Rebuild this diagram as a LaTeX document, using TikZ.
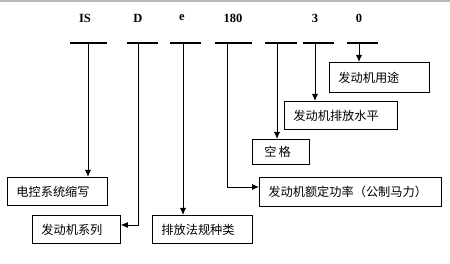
\documentclass[tikz,border=0pt]{standalone}
\usepackage{fontspec}
\setmainfont{Liberation Serif}
\newfontfamily\cjk{Noto Sans CJK SC}
\usetikzlibrary{arrows.meta}
\begin{document}
\begin{tikzpicture}[x=1pt,y=-1pt,
  box/.style={draw, line width=0.8pt, anchor=north west, inner xsep=9pt, inner ysep=0pt,
    font=\cjk\fontsize{12.2}{13}\selectfont, align=left},
  code/.style={font=\bfseries\fontsize{12.5}{13}\selectfont, inner sep=0pt},
  bar/.style={line width=1.8pt},
  arr/.style={line width=0.9pt, -{Latex[length=7pt,width=6pt]}}]
\useasboundingbox (0,0) rectangle (450,264);
\fill[white] (0,0) rectangle (450,264);
\fill[gray!55] (0,0) rectangle (450,2.5);
% code letters
\node[code] (tIS) at (85,18) {IS};
\node[code] (tD) at (138,18) {D};
\node[code] (te) at (182,18) {e};
\node[code] (t180) at (233,18) {180};
\node[code] (t3) at (315,18) {3};
\node[code] (t0) at (359,18) {0};
% bars
\coordinate (b1l) at (70,43); \coordinate (b1r) at (107,43); \coordinate (b1) at (88,43);
\coordinate (b2l) at (127,43); \coordinate (b2r) at (158,43); \coordinate (b2) at (138,43);
\coordinate (b3l) at (170,43); \coordinate (b3r) at (201,43); \coordinate (b3) at (183,43);
\coordinate (b4l) at (215,43); \coordinate (b4r) at (252,43); \coordinate (b4) at (227,43);
\coordinate (b5l) at (265,43); \coordinate (b5r) at (297,43); \coordinate (b5) at (277,43);
\coordinate (b6l) at (303,43); \coordinate (b6r) at (334,43); \coordinate (b6) at (315,43);
\coordinate (b7l) at (347,43); \coordinate (b7r) at (378,43); \coordinate (b7) at (359,43);
\foreach \i in {1,...,7} {\draw[bar] (b\i l) -- (b\i r);}
% boxes
\node[box, minimum height=30pt, text width=82pt] (use) at (329,62) {发动机用途};
\node[box, minimum height=28pt, text width=95pt] (lvl) at (284,101) {发动机排放水平};
\node[box, minimum height=25pt, inner xsep=12pt, text width=33pt] (space) at (252,139) {空\,格};
\node[box, minimum height=29pt, text width=164pt] (power) at (259,177) {发动机额定功率（公制马力）};
\node[box, minimum height=28pt, text width=82pt] (ecu) at (7,177) {电控系统缩写};
\node[box, minimum height=28pt, text width=70pt] (series) at (32,215) {发动机系列};
\node[box, minimum height=28pt, text width=82pt] (reg) at (152,215) {排放法规种类};
% connectors
\draw[arr] (b1) -- (b1 |- ecu.north);
\coordinate (c2) at (138,225);
\draw[arr] (b2) -- (c2) -- (c2 -| series.east);
\draw[arr] (b3) -- (b3 |- reg.north);
\coordinate (c4) at (227,187);
\draw[arr] (b4) -- (c4) -- (c4 -| power.west);
\draw[arr] (b5) -- (b5 |- space.north);
\draw[arr] (b6) -- (b6 |- lvl.north);
\draw[arr] (b7) -- (b7 |- use.north);
\end{tikzpicture}
\end{document}
